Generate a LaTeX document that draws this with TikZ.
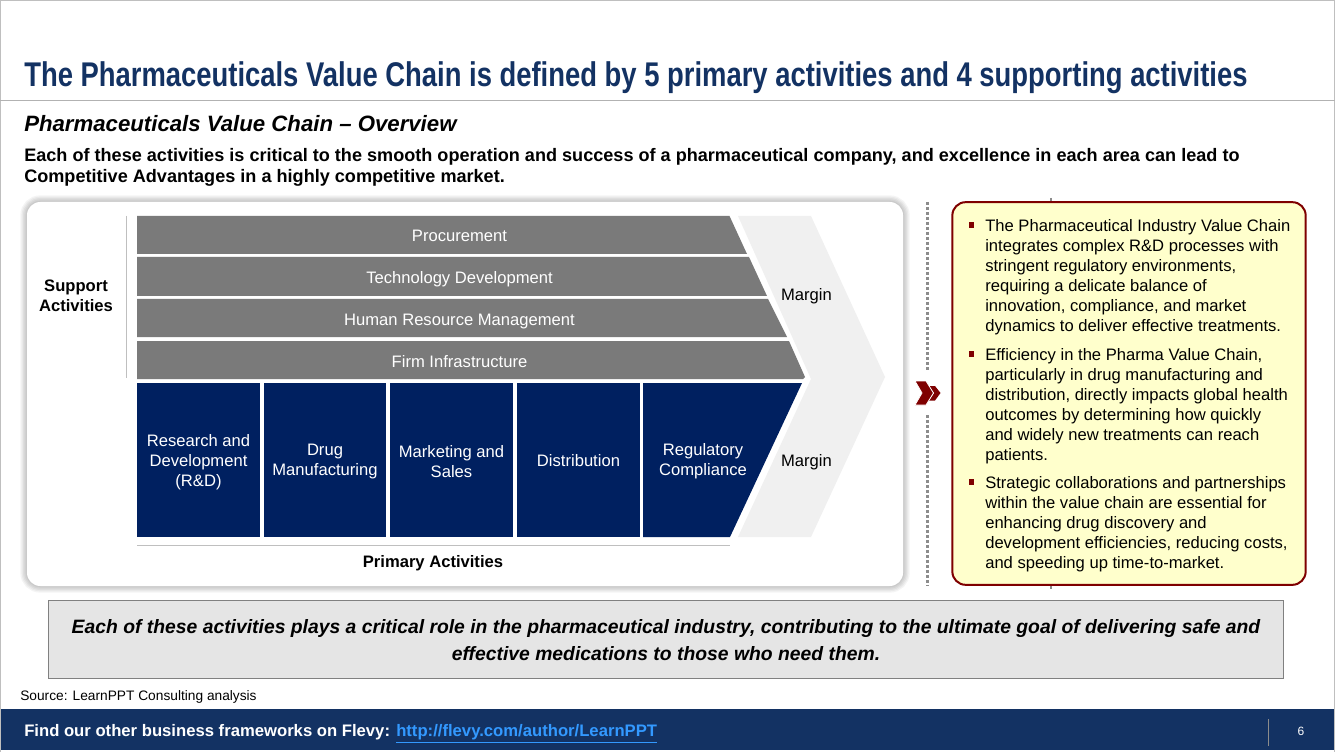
\documentclass[tikz,border=0pt]{standalone}
\usepackage{fontspec}
\setmainfont{Liberation Sans}
\newfontfamily\narrowfont[FakeStretch=0.8]{Liberation Sans}
\usepackage{tikz}
\usetikzlibrary{calc,positioning}
\definecolor{slidenavy}{HTML}{133263}
\definecolor{blockblue}{HTML}{002060}
\definecolor{blockgray}{HTML}{7A7A7A}
\definecolor{darkred}{HTML}{7F0000}
\definecolor{notebg}{HTML}{FFFFCC}
\definecolor{linkblue}{HTML}{3399FF}
\begin{document}
\begin{tikzpicture}[x=0.75pt, y=-0.75pt,
	txt/.style = {inner sep=0pt, align=center, font=\fontsize{12.45}{15}\selectfont},
	boldtxt/.style = {txt, font=\fontsize{12.45}{15}\selectfont\bfseries},
	leftnote/.style = {txt, align=left, anchor=west},
	barlabel/.style = {txt, text=white},
	bullet/.style = {fill=darkred, inner sep=0pt, minimum size=3.8pt},
	dotline/.style = {black!45, line width=2.2pt, dash pattern=on 2.25pt off 1.5pt},
]
	\useasboundingbox (0,0) rectangle (1335,752);
	\fill[white] (0,0) rectangle (1335,752);
	\draw[black!25, line width=1pt] (0.5,752) -- (0.5,0.5) -- (1334.5,0.5) -- (1334.5,752);
	\draw[black!30, line width=0.75pt] (0,100.5) -- (1335,100.5);

	\node[anchor=west, inner sep=0pt, text=slidenavy, font=\fontsize{25.7}{28}\selectfont\narrowfont\bfseries] (title) at (24,78) {The Pharmaceuticals Value Chain is defined by 5 primary activities and 4 supporting activities};
	\node[anchor=west, inner sep=0pt, font=\fontsize{16.65}{20}\selectfont\bfseries\itshape] (subtitle) at (24,124) {Pharmaceuticals Value Chain – Overview};
	\node[anchor=west, inner sep=0pt, align=left, font=\fontsize{13.57}{15.75}\selectfont\bfseries] (intro) at (24,167.5) {Each of these activities is critical to the smooth operation and success of a pharmaceutical company, and excellence in each area can lead to\\Competitive Advantages in a highly competitive market.};

	\foreach \shadowwidth in {10,8,6,4,2}
		\draw[black, opacity=0.045, line width=\shadowwidth pt, rounded corners=10pt] (27,202) rectangle (903,586);
	\node[fill=white, rounded corners=10pt, minimum width=657pt, minimum height=288pt] (panel) at (465,394) {};

	\fill[black!6] (738,216) -- (811,216) -- (885,377) -- (811,537) -- (738,537) -- (811,379) -- cycle;
	\fill[blockgray] (137,216) -- (729.5,216) -- (747,254) -- (137,254) -- cycle;
	\fill[blockgray] (137,257) -- (749,257) -- (767,296) -- (137,296) -- cycle;
	\fill[blockgray] (137,299) -- (768,299) -- (787,337) -- (137,337) -- cycle;
	\fill[blockgray] (137,341) -- (789,341) -- (805,377) -- (803,379) -- (137,379) -- cycle;
	\fill[blockblue] (137,383) rectangle (260,537);
	\fill[blockblue] (264,383) rectangle (386,537);
	\fill[blockblue] (390,383) rectangle (513,537);
	\fill[blockblue] (517,383) rectangle (640,537);
	\fill[blockblue] (643,383) -- (802,383) -- (730,537) -- (643,537) -- cycle;

	\node[barlabel] (procurement) at (459.5,236) {Procurement};
	\node[barlabel] (technology) at (459.5,279) {Technology Development};
	\node[barlabel] (hr) at (459.5,322) {Human Resource Management};
	\node[barlabel] (firm) at (459.5,362) {Firm Infrastructure};

	\node[barlabel] (rnd) at (198.5,462) {Research and\\Development\\(R\&D)};
	\node[barlabel] (drug) at (325,462) {Drug\\Manufacturing};
	\node[barlabel] (marketing) at (451.5,461.5) {Marketing and\\Sales};
	\node[barlabel] (distribution) at (578.5,461) {Distribution};
	\node[barlabel] (regulatory) at (703,461.5) {Regulatory\\Compliance};

	\node[txt] (margintop) at (806.5,296) {Margin};
	\node[txt] (marginbottom) at (806.5,462) {Margin};
	\node[boldtxt] (support) at (76,296) {Support\\Activities};
	\node[boldtxt] (primary) at (433,563) {Primary Activities};
	\draw[black!25] (126.5,216) -- (126.5,378);
	\draw[black!25] (137,545.5) -- (730,545.5);

	\draw[dotline] (927.5,202) -- (927.5,372);
	\draw[dotline] (927.5,415) -- (927.5,586);
	\fill[darkred] (929,386) -- (935,386) -- (940.5,393) -- (935,400.5) -- (929,400.5) -- (934,393) -- cycle;
	\filldraw[darkred, draw=white, line width=0.6pt] (915,381) -- (926,381) -- (933.5,393) -- (926,405) -- (915,405) -- (922,393) -- cycle;

	\draw[black!45, line width=1.5pt] (1051,198) -- (1051,589);
	\node[draw=darkred, line width=1.5pt, fill=notebg, rounded corners=10pt, minimum width=265pt, minimum height=287pt] (notes) at (1129,393.5) {};
	\node[bullet] (bulleta) at (971.5,225) {};
	\node[bullet] (bulletb) at (971.5,354) {};
	\node[bullet] (bulletc) at (971.5,482) {};
	\node[leftnote] (notea) at (985,277) {The Pharmaceutical Industry Value Chain\\integrates complex R\&D processes with\\stringent regulatory environments,\\requiring a delicate balance of\\innovation, compliance, and market\\dynamics to deliver effective treatments.};
	\node[leftnote] (noteb) at (985,406) {Efficiency in the Pharma Value Chain,\\particularly in drug manufacturing and\\distribution, directly impacts global health\\outcomes by determining how quickly\\and widely new treatments can reach\\patients.};
	\node[leftnote] (notec) at (985,524) {Strategic collaborations and partnerships\\within the value chain are essential for\\enhancing drug discovery and\\development efficiencies, reducing costs,\\and speeding up time-to-market.};

	\node[draw=black!50, line width=0.75pt, fill=black!10, minimum width=926pt, minimum height=58.5pt, inner sep=0pt] (takeaway) at (666,639.5) {};
	\node[inner sep=0pt, align=center, font=\fontsize{14.5}{20.25}\selectfont\bfseries\itshape] (takeawaytext) at (666,640.5) {Each of these activities plays a critical role in the pharmaceutical industry, contributing to the ultimate goal of delivering safe and\\effective medications to those who need them.};
	\node[anchor=west, inner sep=0pt, font=\fontsize{10.3}{12}\selectfont] (source) at (20,697) {Source: LearnPPT Consulting analysis};

	\fill[slidenavy] (1,709) rectangle (1334,750);
	\node[anchor=west, inner sep=0pt, text=white, font=\fontsize{12.5}{15}\selectfont\bfseries] (flevy) at (24,734) {Find our other business frameworks on Flevy: \textcolor{linkblue}{\underline{http://flevy.com/author/LearnPPT}}};
	\draw[black!45] (1268.5,719) -- (1268.5,746);
	\node[inner sep=0pt, text=white, font=\fontsize{9}{10}\selectfont] (pagenum) at (1301,731) {6};
\end{tikzpicture}
\end{document}
